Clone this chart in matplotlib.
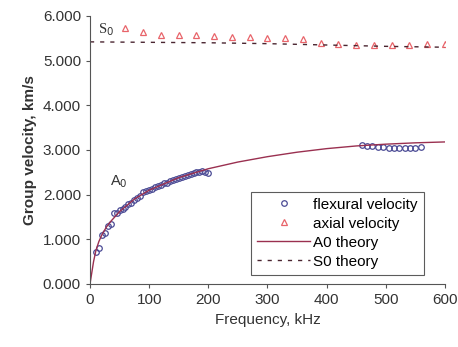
import numpy as np
import matplotlib
matplotlib.use("Agg")
import matplotlib.pyplot as plt
from matplotlib.ticker import FuncFormatter

plt.rcParams["font.family"] = ["Liberation Sans", "DejaVu Sans"]

# measured flexural (A0) group velocity, km/s
flex_freq = [10, 15, 20, 25, 30, 35, 40, 45, 50, 55, 60, 65, 70, 75, 80, 85, 90, 95,
             100, 105, 110, 115, 120, 125, 130, 135, 140, 145, 150, 155, 160, 165,
             170, 175, 180, 185, 190, 195, 200,
             460, 468, 477, 486, 495, 505, 514, 523, 532, 541, 550, 560]
flex_vel = [0.72, 0.80, 1.10, 1.15, 1.30, 1.35, 1.58, 1.60, 1.65, 1.68, 1.73, 1.78,
            1.82, 1.87, 1.92, 1.97, 2.05, 2.08, 2.10, 2.13, 2.17, 2.20, 2.22, 2.25,
            2.27, 2.30, 2.32, 2.35, 2.37, 2.39, 2.42, 2.44, 2.46, 2.48, 2.50, 2.51,
            2.52, 2.50, 2.48,
            3.12, 3.10, 3.09, 3.07, 3.06, 3.05, 3.05, 3.05, 3.05, 3.05, 3.05, 3.06]

# measured axial (S0) group velocity, km/s
axial_freq = [60, 90, 120, 150, 180, 210, 240, 270, 300, 330, 360, 390, 420, 450,
              480, 510, 540, 570, 600]
axial_vel = [5.74, 5.64, 5.58, 5.57, 5.57, 5.55, 5.53, 5.52, 5.50, 5.50, 5.48, 5.40,
             5.37, 5.36, 5.36, 5.36, 5.36, 5.37, 5.37]

# theory curves
a0_freq = [0, 3, 6, 10, 15, 20, 28, 35, 50, 75, 100, 150, 200, 250, 300, 350, 400,
           450, 500, 550, 600]
a0_vel = [0.0, 0.25, 0.50, 0.75, 0.95, 1.10, 1.28, 1.40, 1.62, 1.90, 2.10, 2.38,
          2.58, 2.73, 2.85, 2.95, 3.03, 3.09, 3.13, 3.16, 3.18]
s0_freq = [0, 100, 200, 300, 400, 500, 600]
s0_vel = [5.42, 5.41, 5.40, 5.38, 5.35, 5.32, 5.30]

fig = plt.figure(figsize=(4.58, 3.47), dpi=100)
ax = fig.add_axes([0.1965, 0.1816, 0.775, 0.7724])

ax.plot(flex_freq, flex_vel, linestyle="none", marker="o", markersize=4,
        markerfacecolor="none", markeredgecolor="#4b4b95", markeredgewidth=0.9,
        label="flexural velocity")
ax.plot(axial_freq, axial_vel, linestyle="none", marker="^", markersize=5,
        markerfacecolor="none", markeredgecolor="#e8646a", markeredgewidth=0.9,
        label="axial velocity")
ax.plot(a0_freq, a0_vel, color="#9a3050", lw=1.0, label="A0 theory")
ax.plot(s0_freq, s0_vel, color="#4a2530", lw=1.0, linestyle=(0, (3, 4.3)),
        label="S0 theory")

ax.set_xlim(0, 600)
ax.set_ylim(0, 6)
ax.set_xticks(range(0, 601, 100))
ax.set_yticks(range(0, 7))
ax.yaxis.set_major_formatter(FuncFormatter(lambda v, p: f"{v:.3f}"))
ax.spines["top"].set_visible(False)
ax.spines["right"].set_visible(False)
for s in ("left", "bottom"):
    ax.spines[s].set_color("#555555")
    ax.spines[s].set_linewidth(0.8)
ax.tick_params(direction="out", length=3, width=0.8, color="#555555",
               labelsize=11, labelcolor="#333333")

ax.set_xlabel("Frequency, kHz", fontsize=11, color="#333333")
ax.set_ylabel("Group velocity, km/s", fontsize=11, fontweight="bold",
              color="#333333")

ax.text(14, 5.62, "S$_0$", family="Liberation Serif", fontsize=10.5, color="#333333")
ax.text(33, 2.2, "A$_0$", fontsize=10.5, color="#333333")

leg = ax.legend(loc="lower right", bbox_to_anchor=(0.941, 0.034), fontsize=11,
                frameon=True, fancybox=False, handlelength=3.5,
                borderpad=0.4, labelspacing=0.33, handletextpad=0.2,
                borderaxespad=0)
leg.get_frame().set_edgecolor("#333333")
leg.get_frame().set_linewidth(0.8)

fig.savefig("out.png", dpi=100)
